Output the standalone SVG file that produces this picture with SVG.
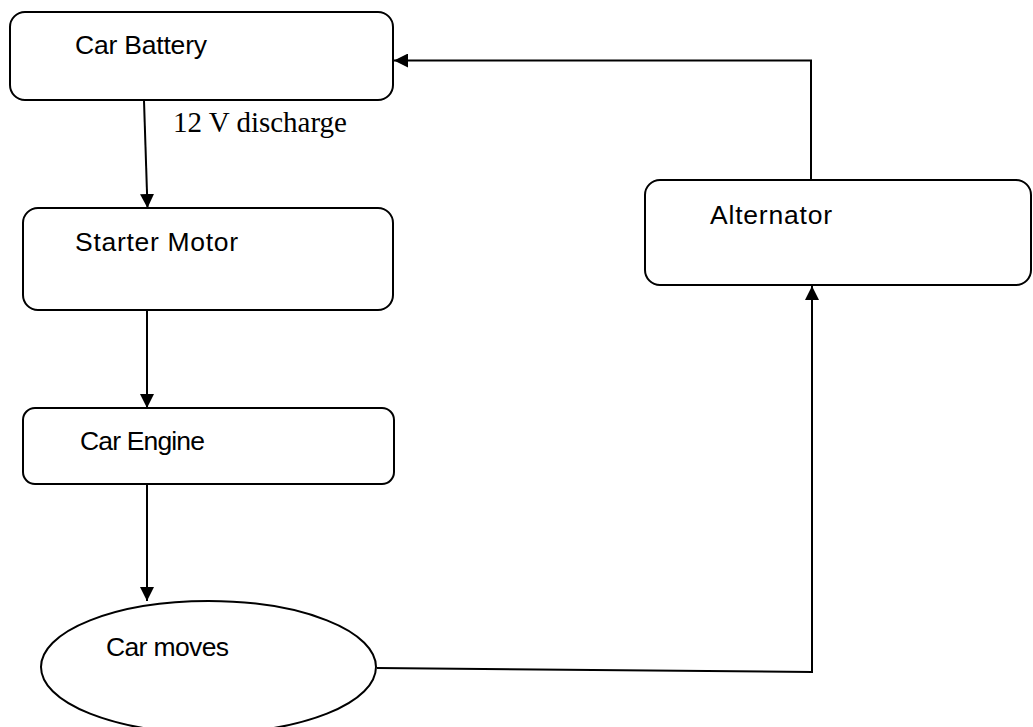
<svg xmlns="http://www.w3.org/2000/svg" width="1033" height="727" viewBox="0 0 1033 727">
<style>
.box{fill:#fff;stroke:#000;stroke-width:2}
.lbl{font-family:"Liberation Sans",Arial,sans-serif;font-size:26.5px;fill:#000}
.edge{fill:none;stroke:#000;stroke-width:2}
.elbl{font-family:"Liberation Serif","Times New Roman",serif;font-size:29px;fill:#000}
</style>
<defs>
<marker id="arrow" markerUnits="userSpaceOnUse" markerWidth="14" markerHeight="14" viewBox="0 0 14 14" refX="14" refY="7" orient="auto">
<path d="M0,0 L14,7 L0,14 Z" fill="#000"/>
</marker>
</defs>
<rect width="1033" height="727" fill="#fff"/>
<g id="connectors">
<line class="edge" x1="144" y1="101" x2="147.5" y2="208" marker-end="url(#arrow)"/>
<line class="edge" x1="147" y1="311" x2="147" y2="408" marker-end="url(#arrow)"/>
<line class="edge" x1="147" y1="485" x2="147" y2="601" marker-end="url(#arrow)"/>
<polyline class="edge" points="377,668 812,672 812,286" marker-end="url(#arrow)"/>
<polyline class="edge" points="811,180 811,60.5 394,60.5" marker-end="url(#arrow)"/>
<text class="elbl" x="173" y="132">12 V discharge</text>
</g>
<g id="car-battery">
<rect class="box" x="10" y="12" width="383" height="88" rx="15"/>
<text class="lbl" x="75" y="54" textLength="132">Car Battery</text>
</g>
<g id="starter-motor">
<rect class="box" x="23" y="208" width="370" height="102" rx="15"/>
<text class="lbl" x="75" y="251" textLength="163">Starter Motor</text>
</g>
<g id="car-engine">
<rect class="box" x="23" y="408" width="371" height="76" rx="12"/>
<text class="lbl" x="80" y="450" textLength="125">Car Engine</text>
</g>
<g id="car-moves">
<ellipse class="box" cx="208.5" cy="667" rx="167.5" ry="66"/>
<text class="lbl" x="106" y="656" textLength="123">Car moves</text>
</g>
<g id="alternator">
<rect class="box" x="645" y="180" width="386" height="105" rx="15"/>
<text class="lbl" x="710" y="224" textLength="122">Alternator</text>
</g>
</svg>
